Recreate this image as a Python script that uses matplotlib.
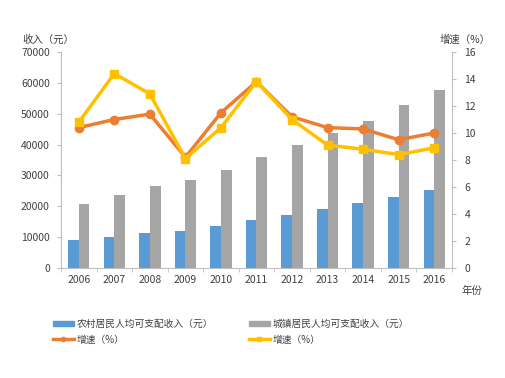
import matplotlib
matplotlib.use("Agg")
import matplotlib.pyplot as plt
import numpy as np
from matplotlib.patches import Patch
from matplotlib.lines import Line2D

plt.rcParams['font.family'] = ['Noto Sans CJK SC', 'DejaVu Sans']

years = ['2006', '2007', '2008', '2009', '2010', '2011', '2012', '2013', '2014', '2015', '2016']
rural_income = [9100, 10000, 11200, 12100, 13600, 15600, 17300, 19000, 21100, 23100, 25400]
urban_income = [20600, 23500, 26600, 28600, 31800, 36100, 40000, 43900, 47600, 52900, 57600]
rural_growth = [10.4, 11.0, 11.4, 8.2, 11.5, 13.8, 11.2, 10.4, 10.3, 9.5, 10.0]
urban_growth = [10.8, 14.4, 12.9, 8.1, 10.4, 13.8, 11.0, 9.1, 8.8, 8.4, 8.9]

blue = '#5B9BD5'
gray = '#A5A5A5'
orange = '#ED7D31'
yellow = '#FFC000'
axc = '#BFBFBF'
tc = '#404040'

fig = plt.figure(figsize=(5.06, 3.78), dpi=100)
ax = fig.add_axes([61/506, 1-268/378, (452-61)/506, (268-52)/378])
x = np.arange(len(years))
w = 0.3
ax.bar(x - w/2, rural_income, w, color=blue, zorder=2)
ax.bar(x + w/2, urban_income, w, color=gray, zorder=2)
ax.set_ylim(0, 70000)
ax.set_yticks(range(0, 70001, 10000))
ax.set_xlim(-0.5, len(years) - 0.5)
ax.set_xticks(x)
ax.set_xticklabels(years)
ax.set_xticks(np.arange(-0.5, len(years), 1), minor=True)
ax.tick_params(axis='x', which='major', length=0, labelsize=7.5, labelcolor=tc, pad=5)
ax.tick_params(axis='x', which='minor', length=3, color=axc)
ax.tick_params(axis='y', length=3, color=axc, labelsize=7.5, labelcolor=tc, pad=5)
for s in ['top', 'right']:
    ax.spines[s].set_visible(False)
for s in ['left', 'bottom']:
    ax.spines[s].set_color(axc)

ax2 = ax.twinx()
ax2.plot(x, rural_growth, color=orange, lw=2.5, marker='o', ms=6, zorder=3)
ax2.plot(x, urban_growth, color=yellow, lw=2.5, marker='s', ms=6, zorder=4)
ax2.set_ylim(0, 16)
ax2.set_yticks(range(0, 17, 2))
ax2.tick_params(axis='y', length=3, color=axc, labelsize=7.5, labelcolor=tc, pad=6)
for s in ['top', 'left', 'bottom']:
    ax2.spines[s].set_visible(False)
ax2.spines['right'].set_color(axc)

fig.text(22/506, 1-40/378, '收入（元）', fontsize=7.5, color=tc, va='center', ha='left')
fig.text(440/506, 1-40/378, '增速（%）', fontsize=7.5, color=tc, va='center', ha='left')
fig.text(462/506, 1-291/378, '年份', fontsize=7.5, color=tc, va='center', ha='left')

handles = [
    Patch(color=blue),
    Line2D([], [], color=orange, lw=2.5, marker='o', ms=3),
    Patch(color=gray),
    Line2D([], [], color=yellow, lw=2.5, marker='s', ms=3),
]
labels = ['农村居民人均可支配收入（元）', '增速（%）', '城镇居民人均可支配收入（元）', '增速（%）']
fig.legend(handles, labels, ncol=2, loc='upper left', bbox_to_anchor=(44/506, 1-310/378),
           frameon=False, fontsize=7, labelcolor=tc, handlelength=2.2, handleheight=0.5,
           handletextpad=0.3, columnspacing=3.6, labelspacing=0.6)

fig.savefig('out.png', dpi=100)
